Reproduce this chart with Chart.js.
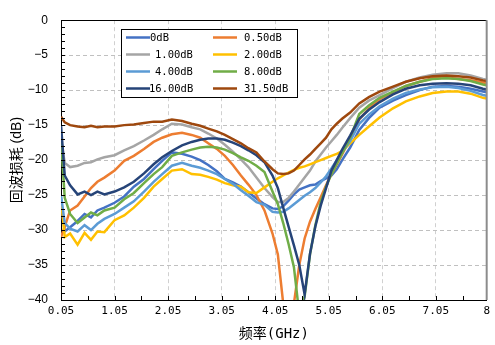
<!DOCTYPE html>
<html>
<head>
<meta charset="utf-8">
<script src="https://cdn.jsdelivr.net/npm/chart.js@4"></script>
<style>
  body { margin: 0; background: #fff; }
  canvas { display: block; }
</style>
</head>
<body>
<canvas id="rl" width="495" height="345"></canvas>
<script>
// частота, ГГц
const freq = [0.05, 0.12, 0.22, 0.36, 0.49, 0.61, 0.73, 0.86, 1.05, 1.23, 1.41, 1.6, 1.78, 1.94,
  2.12, 2.31, 2.49, 2.65, 2.8, 2.96, 3.11, 3.26, 3.41, 3.55, 3.7, 3.85, 4.0, 4.1, 4.2, 4.3,
  4.4, 4.5, 4.6, 4.7, 4.8, 4.9, 5.0, 5.1, 5.2, 5.3, 5.45, 5.62, 5.8, 6.0, 6.25, 6.49, 6.75,
  6.99, 7.25, 7.47, 7.7, 7.93, 8.0];

// возвратные потери, дБ
const rl0 = [-26.0, -30.2, -29.6, -28.7, -27.7, -28.2, -27.2, -26.8, -26.1, -25.2, -23.8, -22.7, -21.3, -20.1,
  -18.9, -19.1, -19.5, -20.0, -20.7, -21.6, -22.7, -23.2, -23.8, -24.6, -25.5, -26.3, -26.9, -27.0, -26.6, -25.8,
  -24.9, -24.2, -23.9, -23.6, -23.5, -23.0, -22.6, -22.2, -21.3, -20.0, -18.2, -15.7, -14.0, -12.5, -11.5, -10.7, -10.0,
  -9.5, -9.4, -9.5, -9.8, -10.2, -10.3];
const rl050 = [-31.0, -29.5, -27.2, -26.5, -25.2, -24.0, -23.1, -22.5, -21.5, -20.1, -19.4, -18.4, -17.4, -16.8,
  -16.3, -16.1, -16.4, -16.8, -17.6, -18.4, -19.4, -20.7, -22.2, -23.5, -25.0, -27.2, -30.5, -33.5, -40.5, -46.0,
  -40.5, -35.0, -31.2, -28.8, -27.0, -25.3, -23.6, -22.0, -20.6, -19.2, -17.0, -14.2, -12.6, -11.3, -10.3, -9.4, -8.8,
  -8.3, -8.2, -8.4, -8.6, -8.9, -9.0];
const rl100 = [-17.0, -20.4, -21.0, -20.8, -20.4, -20.3, -19.9, -19.6, -19.3, -18.6, -18.0, -17.2, -16.4, -15.6,
  -14.8, -14.9, -15.3, -15.6, -16.2, -16.9, -17.8, -18.8, -19.9, -21.0, -22.5, -24.0, -25.3, -26.0, -26.0, -25.4,
  -24.5, -23.5, -22.5, -21.5, -20.2, -19.2, -18.2, -17.3, -16.4, -15.4, -14.0, -12.5, -11.5, -10.7, -9.7, -8.8, -8.2,
  -7.8, -7.6, -7.6, -7.9, -8.4, -8.5];
const rl200 = [-25.5, -31.0, -30.5, -32.1, -30.4, -31.4, -30.2, -30.3, -28.6, -27.9, -26.8, -25.4, -23.8, -22.7,
  -21.5, -21.3, -22.0, -22.1, -22.4, -22.8, -23.3, -23.6, -23.8, -24.6, -24.7, -23.9, -23.1, -22.6, -22.2, -21.8,
  -21.4, -21.1, -20.9, -20.6, -20.3, -20.0, -19.7, -19.4, -19.1, -18.7, -17.6, -16.4, -15.2, -13.9, -12.6, -11.6, -10.9,
  -10.4, -10.2, -10.2, -10.5, -11.1, -11.2];
const rl400 = [-25.0, -29.0, -29.8, -30.2, -29.3, -30.0, -29.1, -28.4, -27.7, -26.8, -25.9, -24.5, -23.1, -22.0,
  -20.8, -20.4, -20.8, -21.1, -21.5, -22.0, -22.7, -23.4, -24.3, -25.1, -26.0, -26.4, -27.4, -27.5, -27.4, -26.9,
  -26.3, -25.7, -25.1, -24.6, -24.0, -23.2, -22.3, -21.2, -20.0, -18.9, -17.3, -14.8, -13.5, -12.3, -11.2, -10.4, -9.9,
  -9.6, -9.5, -9.7, -10.1, -10.7, -10.8];
const rl800 = [-17.0, -25.4, -27.7, -29.0, -28.2, -27.5, -27.9, -27.2, -26.8, -25.6, -24.7, -23.3, -22.0, -21.0,
  -19.4, -18.9, -18.5, -18.2, -18.1, -18.2, -18.5, -19.0, -19.6, -20.1, -20.8, -21.7, -24.5, -26.3, -29.0, -32.0,
  -35.3, -42.0, -39.5, -33.5, -29.3, -26.0, -23.8, -22.0, -20.5, -19.0, -16.8, -13.4, -12.2, -11.1, -10.2, -9.4, -8.8,
  -8.4, -8.3, -8.4, -8.7, -9.2, -9.3];
const rl1600 = [-15.0, -22.2, -23.6, -24.9, -24.5, -25.0, -24.5, -24.9, -24.5, -23.9, -23.1, -21.9, -20.6, -19.6,
  -18.7, -17.9, -17.4, -17.1, -16.9, -16.9, -17.1, -17.5, -18.0, -18.6, -19.3, -20.3, -22.2, -24.0, -26.8, -29.5,
  -32.2, -35.0, -39.2, -33.4, -29.5, -26.5, -24.0, -21.5, -20.0, -18.5, -16.5, -14.1, -12.8, -11.7, -10.6, -9.8, -9.3,
  -9.1, -9.0, -9.1, -9.3, -9.8, -9.9];
const rl3150 = [-13.8, -14.6, -15.0, -15.2, -15.3, -15.1, -15.3, -15.2, -15.2, -15.0, -14.9, -14.7, -14.5, -14.5,
  -14.2, -14.4, -14.8, -15.1, -15.5, -15.9, -16.4, -17.0, -17.6, -18.3, -18.9, -20.2, -21.3, -21.9, -22.0, -21.9,
  -21.5, -20.7, -19.9, -19.2, -18.4, -17.6, -16.8, -15.6, -14.8, -14.1, -13.2, -11.9, -11.0, -10.2, -9.5, -8.8, -8.3,
  -8.0, -7.9, -8.0, -8.2, -8.6, -8.7];

const names = ['0dB', '0.50dB', '1.00dB', '2.00dB', '4.00dB', '8.00dB', '16.00dB', '31.50dB'];
const colors = ['#4472C4', '#ED7D31', '#A5A5A5', '#FFC000', '#5B9BD5', '#70AD47', '#264478', '#9E480E'];
const series = [rl0, rl050, rl100, rl200, rl400, rl800, rl1600, rl3150];
const xTicks = [0.05, 1.05, 2.05, 3.05, 4.05, 5.05, 6.05, 7.05, 8];

const monoCjk = '"DejaVu Sans Mono", "Noto Sans CJK SC", sans-serif';

// рамка, мелкие засечки и легенда внутри графика
const framePlugin = {
  id: 'frame',
  afterDatasetsDraw(chart) {
    const {ctx, chartArea: a, scales: {x, y}} = chart;
    ctx.save();
    ctx.strokeStyle = '#000';
    ctx.lineWidth = 1;
    ctx.beginPath();
    for (let v = 0.05; v < 8; v += 0.5) {
      const px = Math.round(x.getPixelForValue(v)) + 0.5;
      ctx.moveTo(px, a.bottom); ctx.lineTo(px, a.bottom - 4);
    }
    for (let v = -39; v < 0; v++) {
      const py = Math.round(y.getPixelForValue(v)) + 0.5;
      ctx.moveTo(a.left, py); ctx.lineTo(a.left + 4, py);
    }
    ctx.moveTo(a.left, Math.round(a.top) + 0.5);
    ctx.lineTo(a.right, Math.round(a.top) + 0.5);
    ctx.stroke();
    ctx.strokeStyle = '#8C8C8C';
    ctx.lineWidth = 2;
    ctx.beginPath();
    ctx.moveTo(a.right, a.top); ctx.lineTo(a.right, a.bottom);
    ctx.stroke();

    // легенда
    ctx.fillStyle = '#fff';
    ctx.fillRect(121.5, 29.5, 176, 68);
    ctx.strokeStyle = '#000';
    ctx.lineWidth = 1;
    ctx.strokeRect(121.5, 29.5, 176, 68);
    ctx.font = '10.5px ' + monoCjk;
    ctx.textBaseline = 'middle';
    chart.data.datasets.forEach((ds, i) => {
      const col = i % 2, row = Math.floor(i / 2);
      const ly = 37.5 + row * 17;
      const lx = col === 0 ? 126 : 213;
      ctx.strokeStyle = ds.borderColor;
      ctx.lineWidth = 2.5;
      ctx.beginPath();
      ctx.moveTo(lx, ly); ctx.lineTo(lx + 24, ly);
      ctx.stroke();
      ctx.fillStyle = '#000';
      ctx.fillText(ds.label, col === 0 ? (i === 0 ? 150 : (i === 6 ? 149 : 155)) : 244, ly + 0.5);
    });
    ctx.restore();
  }
};

new Chart(document.getElementById('rl'), {
  type: 'line',
  data: {
    datasets: series.map((s, i) => ({
      label: names[i],
      data: s.map((v, k) => ({x: freq[k], y: v})),
      borderColor: colors[i],
      backgroundColor: colors[i],
      borderWidth: 2.5,
      pointRadius: 0,
      tension: 0,
      order: 7 - i
    }))
  },
  options: {
    responsive: false,
    animation: false,
    layout: {padding: {top: 11, right: 6, left: 0, bottom: 0}},
    plugins: {legend: {display: false}, tooltip: {enabled: false}},
    scales: {
      x: {
        type: 'linear',
        min: 0.05,
        max: 8,
        afterBuildTicks: (s) => { s.ticks = xTicks.map(v => ({value: v})); },
        afterFit: (s) => { s.height = 45; },
        ticks: {
          autoSkip: false,
          maxRotation: 0,
          padding: 5,
          color: '#000',
          font: {family: monoCjk, size: 11},
          callback: (v) => v === 8 ? '8' : v.toFixed(2)
        },
        grid: {
          drawTicks: false,
          color: (c) => (c.index === 0 || c.index === xTicks.length - 1) ? 'rgba(0,0,0,0)' : '#D0D0D0'
        },
        border: {display: true, color: '#000', width: 1, dash: [4, 3]},
        title: {
          display: true,
          text: '频率(GHz)',
          color: '#000',
          font: {family: monoCjk, size: 14},
          padding: {top: 0, bottom: 2}
        }
      },
      y: {
        min: -40,
        max: 0,
        afterFit: (s) => { s.width = 61; },
        ticks: {
          stepSize: 5,
          padding: 13,
          color: '#000',
          font: {family: '"Liberation Sans", Arial, sans-serif', size: 12},
          callback: (v) => v < 0 ? '\u2212' + Math.abs(v) : String(v)
        },
        grid: {
          drawTicks: false,
          color: (c) => (c.tick && (c.tick.value === 0 || c.tick.value === -40)) ? 'rgba(0,0,0,0)' : '#C0C0C0'
        },
        border: {display: true, color: '#000', width: 1, dash: [4, 3]},
        title: {
          display: true,
          text: '回波损耗 (dB)',
          color: '#000',
          font: {family: '"Liberation Sans", "Noto Sans CJK SC", sans-serif', size: 14},
          padding: {top: 9, bottom: 0}
        }
      }
    }
  },
  plugins: [framePlugin]
});
</script>
</body>
</html>
